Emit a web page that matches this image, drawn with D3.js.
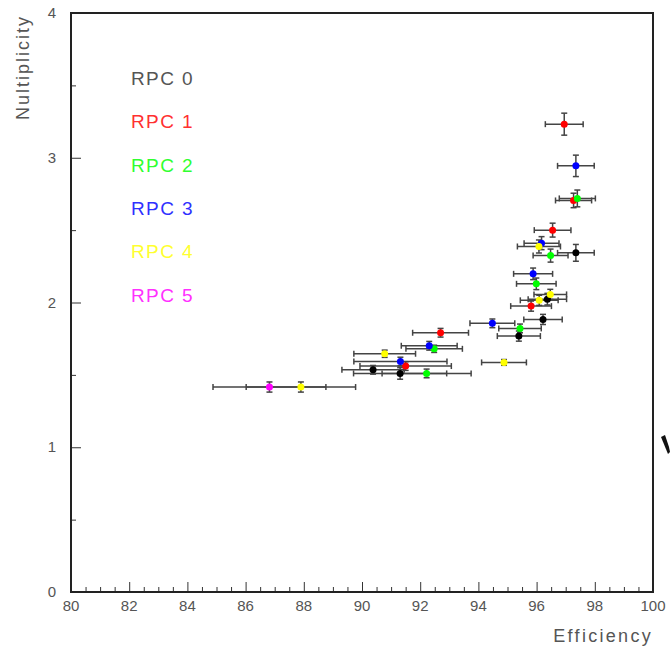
<!DOCTYPE html>
<html>
<head>
<meta charset="utf-8">
<script src="https://cdn.jsdelivr.net/npm/d3@7"></script>
<style>
  body { margin: 0; background: #fff; }
  text { font-family: 'Liberation Sans', Arial, sans-serif; }
</style>
</head>
<body>
<script>
const w = 670;
const h = 652;
const margin = { top: 13, right: 17, bottom: 60, left: 71 };

const rpcLabels = ['RPC 0', 'RPC 1', 'RPC 2', 'RPC 3', 'RPC 4', 'RPC 5'];
const rpcColors = ['#000000', '#ff0000', '#00ff00', '#0000ff', '#ffff00', '#ff00ff'];
const legendColors = ['#555555', '#ff3030', '#30ff30', '#3030ff', '#ffff30', '#ff30ff'];

// efficiency (%) per RPC
const efficiency = [
  [97.35, 96.37, 96.22, 95.39, 90.38, 91.31],
  [96.95, 97.27, 96.55, 95.81, 92.70, 91.50],
  [97.40, 96.48, 95.99, 95.43, 92.48, 92.22],
  [97.35, 96.17, 95.88, 94.48, 92.31, 91.32],
  [96.08, 96.47, 96.09, 94.88, 90.78, 87.90],
  [86.82],
];
const efficiencyErr = [
  [0.63, 0.66, 0.66, 0.74, 1.07, 1.60],
  [0.65, 0.62, 0.63, 0.70, 0.96, 1.57],
  [0.62, 0.60, 0.68, 0.73, 0.97, 1.53],
  [0.63, 0.60, 0.67, 0.77, 0.96, 1.60],
  [0.74, 0.56, 0.65, 0.77, 1.06, 1.88],
  [1.94],
];
// multiplicity per RPC
const multiplicity = [
  [2.343, 2.023, 1.883, 1.768, 1.535, 1.510],
  [3.232, 2.705, 2.500, 1.975, 1.791, 1.561],
  [2.719, 2.324, 2.129, 1.821, 1.680, 1.510],
  [2.944, 2.410, 2.198, 1.856, 1.701, 1.592],
  [2.387, 2.056, 2.015, 1.586, 1.646, 1.416],
  [1.416],
];
const multiplicityErr = [
  [0.058, 0.040, 0.035, 0.035, 0.030, 0.040],
  [0.076, 0.050, 0.048, 0.035, 0.030, 0.030],
  [0.058, 0.045, 0.040, 0.030, 0.025, 0.030],
  [0.074, 0.045, 0.040, 0.030, 0.030, 0.030],
  [0.045, 0.035, 0.035, 0.020, 0.025, 0.035],
  [0.035],
];

const xTicks = [80, 82, 84, 86, 88, 90, 92, 94, 96, 98, 100];
const yTicks = [0, 1, 2, 3, 4];

const points = [];
efficiency.forEach((arr, s) => {
  arr.forEach((e, i) => {
    points.push({
      rpc: s,
      x: e,
      xe: efficiencyErr[s][i],
      y: multiplicity[s][i],
      ye: multiplicityErr[s][i],
    });
  });
});

const xScale = d3.scaleLinear().domain([80, 100]).range([margin.left, w - margin.right]);
const yScale = d3.scaleLinear().domain([0, 4]).range([h - margin.bottom, margin.top]);

const svg = d3.select('body').append('svg').attr('width', w).attr('height', h);

// minor + major ticks, drawn inward
const xAxis = d3.axisTop(xScale)
  .tickValues(d3.range(80, 100.01, 0.5))
  .tickSizeInner(0).tickSizeOuter(0).tickFormat('');
const xg = svg.append('g')
  .attr('transform', `translate(0,${yScale(0)})`)
  .call(xAxis);
xg.select('.domain').remove();
xg.selectAll('.tick line')
  .attr('y2', d => (Math.abs(d % 2) < 1e-6 ? -10 : -5))
  .attr('stroke', '#333').attr('stroke-width', 1);

const yAxis = d3.axisRight(yScale)
  .tickValues(d3.range(0, 4.01, 0.5))
  .tickSizeInner(0).tickSizeOuter(0).tickFormat('');
const yg = svg.append('g')
  .attr('transform', `translate(${xScale(80)},0)`)
  .call(yAxis);
yg.select('.domain').remove();
yg.selectAll('.tick line')
  .attr('x2', d => (Math.abs(d % 1) < 1e-6 ? 10 : 5))
  .attr('stroke', '#333').attr('stroke-width', 1);

// tick labels
svg.append('g').selectAll('text')
  .data(xTicks)
  .enter()
  .append('text')
  .attr('x', d => xScale(d))
  .attr('y', yScale(0) + 19)
  .attr('text-anchor', 'middle')
  .attr('font-size', 15)
  .attr('fill', '#555')
  .text(d => d);

svg.append('g').selectAll('text')
  .data(yTicks)
  .enter()
  .append('text')
  .attr('x', xScale(80) - 15)
  .attr('y', d => yScale(d) + 5)
  .attr('text-anchor', 'end')
  .attr('font-size', 15)
  .attr('fill', '#555')
  .text(d => d);

// frame
svg.append('rect')
  .attr('x', xScale(80))
  .attr('y', yScale(4))
  .attr('width', xScale(100) - xScale(80))
  .attr('height', yScale(0) - yScale(4))
  .attr('fill', 'none')
  .attr('stroke', '#222')
  .attr('stroke-width', 2);

// axis titles
svg.append('text')
  .attr('x', xScale(100))
  .attr('y', 642)
  .attr('text-anchor', 'end')
  .attr('font-size', 18)
  .attr('letter-spacing', 2.3)
  .attr('fill', '#555')
  .text('Efficiency');

svg.append('text')
  .attr('transform', `translate(29,${margin.top + 2}) rotate(-90)`)
  .attr('text-anchor', 'end')
  .attr('font-size', 18)
  .attr('letter-spacing', 2)
  .attr('fill', '#555')
  .text('Nultiplicity');

// error bars
const bars = svg.append('g')
  .selectAll('g')
  .data(points)
  .enter()
  .append('g')
  .attr('stroke', '#444')
  .attr('stroke-width', 1.5);

bars.append('line')
  .attr('x1', d => xScale(d.x - d.xe))
  .attr('x2', d => xScale(d.x + d.xe))
  .attr('y1', d => yScale(d.y))
  .attr('y2', d => yScale(d.y));
bars.append('line')
  .attr('x1', d => xScale(d.x))
  .attr('x2', d => xScale(d.x))
  .attr('y1', d => yScale(d.y - d.ye))
  .attr('y2', d => yScale(d.y + d.ye));
[-1, 1].forEach(sign => {
  bars.append('line')
    .attr('x1', d => xScale(d.x + sign * d.xe))
    .attr('x2', d => xScale(d.x + sign * d.xe))
    .attr('y1', d => yScale(d.y) - 3)
    .attr('y2', d => yScale(d.y) + 3);
  bars.append('line')
    .attr('x1', d => xScale(d.x) - 3)
    .attr('x2', d => xScale(d.x) + 3)
    .attr('y1', d => yScale(d.y + sign * d.ye))
    .attr('y2', d => yScale(d.y + sign * d.ye));
});

svg.append('g')
  .selectAll('circle')
  .data(points)
  .enter()
  .append('circle')
  .attr('cx', d => xScale(d.x))
  .attr('cy', d => yScale(d.y))
  .attr('r', 3.5)
  .attr('fill', d => rpcColors[d.rpc]);

// legend
svg.append('g').selectAll('text')
  .data(rpcLabels)
  .enter()
  .append('text')
  .attr('x', 131)
  .attr('y', (d, i) => 85 + i * 43.3)
  .attr('font-size', 19)
  .attr('letter-spacing', 1.4)
  .attr('fill', (d, i) => legendColors[i])
  .text(d => d);

// stray mark at the right edge of the picture
svg.append('path')
  .attr('d', 'M661,437 L665,435 L669,447 L670,452 L668,454 Z')
  .attr('fill', '#111');
</script>
</body>
</html>
